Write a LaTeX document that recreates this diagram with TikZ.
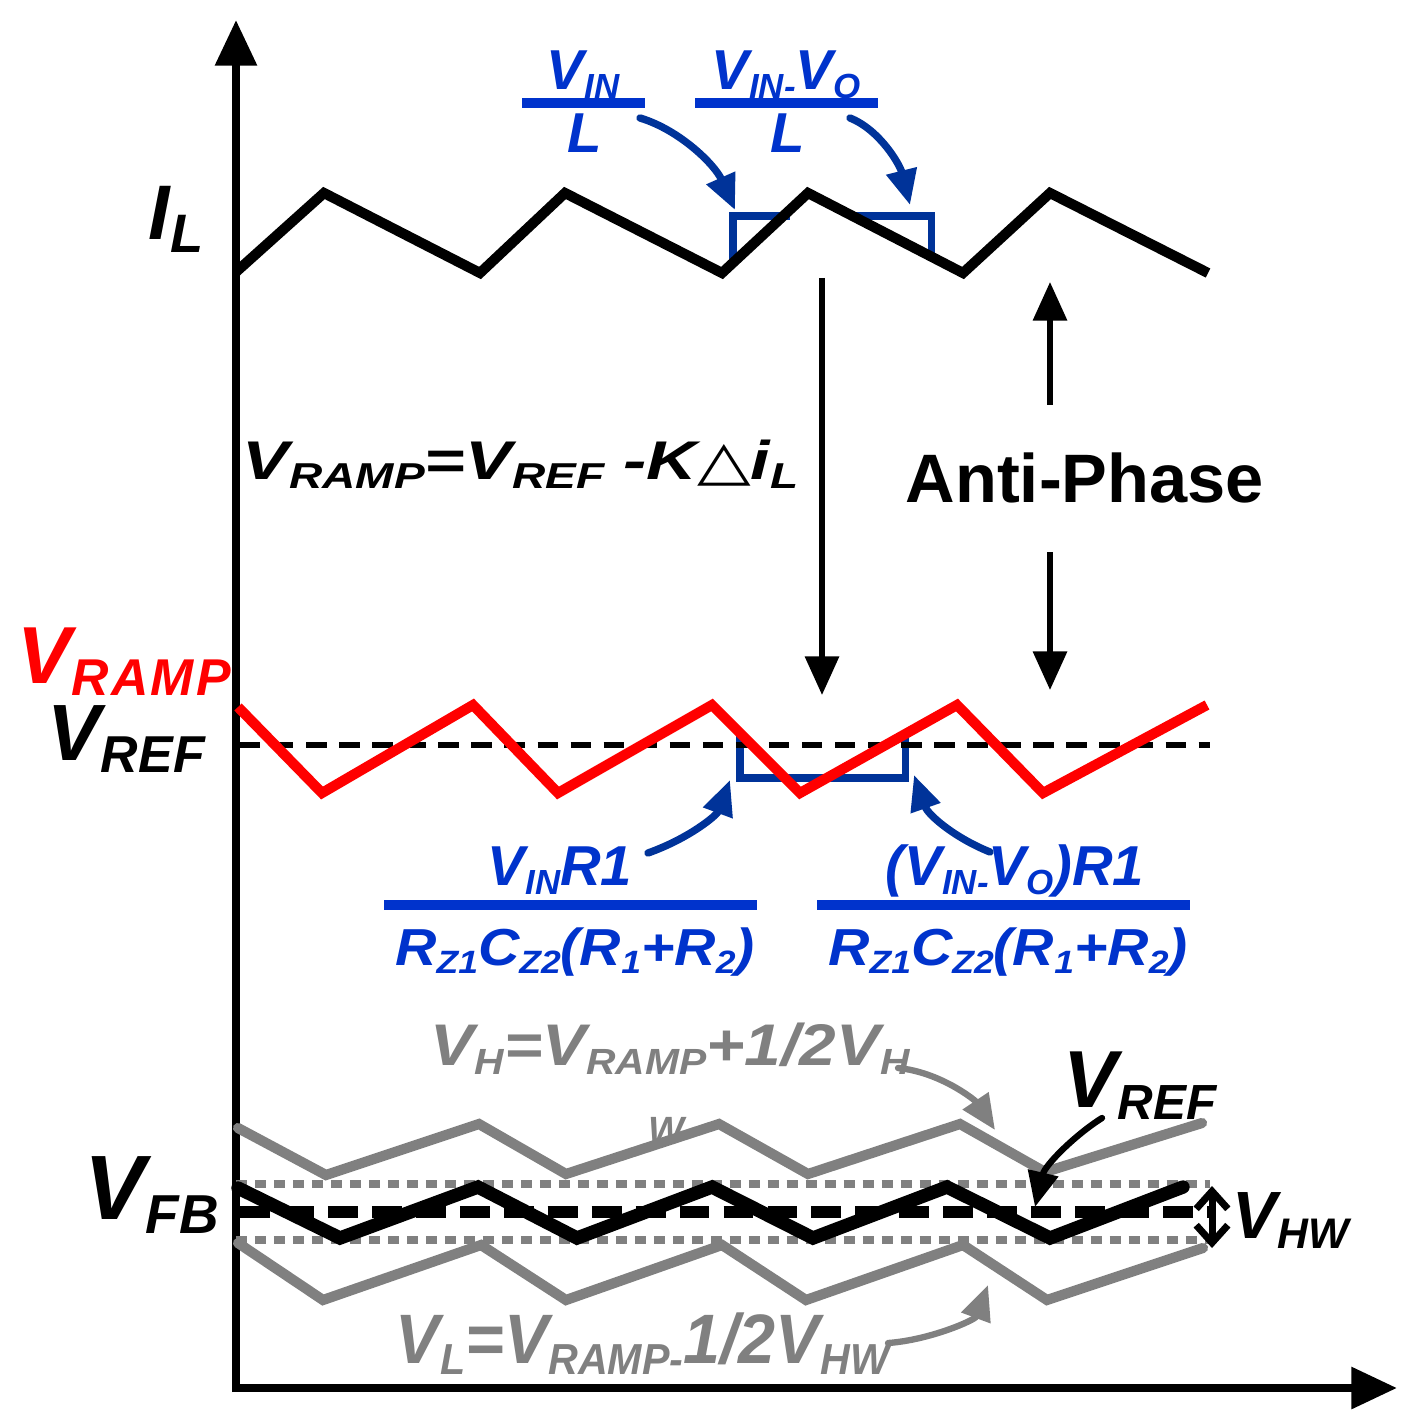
\documentclass[tikz,border=0pt]{standalone}
\usepackage{fontspec}
\setmainfont{Liberation Sans}
\newfontfamily\symfont{DejaVu Sans}
\usepackage{graphicx}
\usetikzlibrary{arrows.meta}

\definecolor{fracblue}{RGB}{0,51,204}
\definecolor{markblue}{RGB}{0,51,153}
\definecolor{rampred}{RGB}{255,0,0}
\definecolor{bandgray}{RGB}{128,128,128}

\newcommand{\lblfont}[1]{\fontsize{#1}{#1}\selectfont\bfseries\itshape}
\newcommand{\subtxt}[2][0.62]{\raisebox{-0.16em}{\scalebox{#1}{#2}}}

\begin{document}
\begin{tikzpicture}[x = 0.01cm, y = -0.01cm,
	lbl/.style = {inner sep = 0pt, anchor = base west},
	frac/.style = {inner sep = 0pt, anchor = base, fracblue},
	wave/.style = {line width = 2.9pt},
	bar/.style = {line width = 2.9pt, fracblue},
	box/.style = {line width = 2pt, markblue},
	axis/.style = {line width = 2.3pt, -{Triangle[length = 13pt, width = 11.5pt]}},
	bigarrow/.style = {line width = 1.5pt, -{Triangle[length = 11pt, width = 9.5pt]}},
	curvearrow/.style = {line width = 2.1pt, line cap = round, -{Triangle[length = 10pt, width = 8.5pt]}}]

\useasboundingbox (0,0) rectangle (1413,1422);

% axes
\draw[axis] (236,1392) -- (236,20);
\draw[axis] (232,1388) -- (1397,1388);

% slope marks
\draw[box] (733,263) -- (733,216) -- (790,216);
\draw[box] (850,216) -- (931,216) -- (931,257);
\draw[box] (740,733) -- (740,778) -- (905,778) -- (905,734);

% inductor current
\draw[wave] (236,272) -- (324,193) -- (480,273) -- (565,193) -- (722,273) -- (808,193) -- (963,273) -- (1050,193) -- (1208,273);

% ramp
\draw[line width = 1.8pt, dash pattern = on 5.8pt off 3.6pt] (240,745) -- (1210,745);
\draw[wave, rampred] (238,707) -- (322,793) -- (473,705) -- (558,793) -- (712,705) -- (800,793) -- (957,705) -- (1043,793) -- (1207,705);

% hysteresis window
\draw[wave, bandgray, line cap = round] (238,1128) -- (326,1175) -- (479,1124) -- (566,1174) -- (719,1124) -- (808,1174) -- (960,1124) -- (1045,1172) -- (1202,1123);
\draw[wave, bandgray, line cap = round] (238,1243) -- (323,1300) -- (481,1245) -- (566,1300) -- (722,1245) -- (806,1300) -- (963,1245) -- (1047,1300) -- (1203,1248);
\draw[bandgray, line width = 2.3pt, dash pattern = on 3.2pt off 2.2pt] (236,1184) -- (1210,1184);
\draw[bandgray, line width = 2.3pt, dash pattern = on 3.2pt off 2.2pt] (236,1240) -- (1210,1240);
\draw[line width = 3.2pt, dash pattern = on 8.5pt off 4pt] (240,1212) -- (1210,1212);
\draw[line width = 3.8pt, line cap = round] (238,1188) -- (340,1238) -- (478,1187) -- (577,1238) -- (712,1187) -- (813,1238) -- (947,1187) -- (1050,1238) -- (1183,1187);

% labels
\node[lbl, font = {\lblfont{22pt}}] (il) at (148,240) {I\subtxt[0.7]{L}};
\node[lbl, font = {\lblfont{15.5pt}}] (rampeq) at (242,480) {\scalebox{1.28}[1]{V\subtxt[0.66]{RAMP}=V\subtxt[0.66]{REF} -K{\symfont\mdseries\upshape △}i\subtxt[0.66]{L}}};
\node[lbl, font = {\fontsize{19.5pt}{20pt}\selectfont\bfseries}] (anti) at (905,502) {Anti-Phase};
\node[lbl, rampred, font = {\lblfont{23pt}}] (vramp) at (17,683) {V\subtxt[0.64]{R\kern1pt A\kern1pt M\kern1pt P}};
\node[lbl, font = {\lblfont{22.7pt}}] (vref) at (47,760) {V\subtxt[0.65]{REF}};

\node[frac, font = {\lblfont{16pt}}] (vin) at (583,90) {V\subtxt{IN}};
\draw[bar] (522,103) -- (645,103);
\node[frac, font = {\lblfont{16pt}}] (vinl) at (585,153) {L};
\node[frac, font = {\lblfont{16pt}}] (vinvo) at (786,90) {V\subtxt{IN-}V\subtxt{O}};
\draw[bar] (695,103) -- (878,103);
\node[frac, font = {\lblfont{16pt}}] (vinvol) at (788,153) {L};

\node[frac, font = {\lblfont{16pt}}] (vinr) at (560,885) {V\subtxt{IN}R1};
\draw[bar] (384,905) -- (757,905);
\node[frac, font = {\lblfont{14.8pt}}] (rcl) at (575,965) {\scalebox{1.1}[1]{R\subtxt{Z1}C\subtxt{Z2}(R\subtxt{1}+R\subtxt{2})}};
\node[frac, font = {\lblfont{16pt}}] (vinvor) at (1015,885) {(V\subtxt{IN-}V\subtxt{O})R1};
\draw[bar] (817,905) -- (1190,905);
\node[frac, font = {\lblfont{14.8pt}}] (rcr) at (1008,965) {\scalebox{1.1}[1]{R\subtxt{Z1}C\subtxt{Z2}(R\subtxt{1}+R\subtxt{2})}};

\node[lbl, bandgray, font = {\lblfont{16.7pt}}] (vheq) at (430,1065) {\scalebox{1.12}[1]{V\subtxt{H}=V\subtxt{RAMP}+1/2V\subtxt{H}}};
\node[lbl, bandgray, font = {\lblfont{10.8pt}}] (vhw) at (648,1143) {W};
\node[lbl, font = {\lblfont{23pt}}] (vrefb) at (1063,1107) {V\subtxt[0.61]{REF}};
\node[lbl, font = {\lblfont{26pt}}] (vfb) at (84,1219) {V\subtxt[0.6]{FB}};
\node[lbl, font = {\lblfont{19pt}}] (vhwl) at (1232,1238) {V\subtxt[0.64]{HW}};
\node[lbl, bandgray, font = {\lblfont{19.9pt}}] (vleq) at (395,1363) {\scalebox{0.95}[1]{V\subtxt{L}=V\subtxt{RAMP-}1/2V\subtxt{HW}}};

% connectors
\coordinate (vin tail) at (640,118);
\coordinate (vin head) at (735,210);
\coordinate (vinvo tail) at (850,118);
\coordinate (vinvo head) at (910,205);
\coordinate (vinr tail) at (648,853);
\coordinate (vinr head) at (730,780);
\coordinate (vinvor tail) at (990,852);
\coordinate (vinvor head) at (914,775);
\coordinate (il tail) at (822,278);
\coordinate (il head) at (822,695);
\coordinate (anti up) at (1050,282);
\coordinate (anti upt) at (1050,405);
\coordinate (anti dn) at (1050,690);
\coordinate (anti dnt) at (1050,552);
\coordinate (vh tail) at (898,1068);
\coordinate (vh head) at (995,1130);
\coordinate (vl tail) at (888,1343);
\coordinate (vl head) at (988,1285);
\coordinate (vrefb tail) at (1102,1118);
\coordinate (vrefb head) at (1035,1207);
\coordinate (hw top) at (1212,1186);
\coordinate (hw bot) at (1212,1248);

\draw[curvearrow, markblue] (vin tail) .. controls (680,130) and (715,165) .. (vin head);
\draw[curvearrow, markblue] (vinvo tail) .. controls (880,130) and (900,165) .. (vinvo head);
\draw[curvearrow, markblue] (vinr tail) .. controls (690,838) and (717,815) .. (vinr head);
\draw[curvearrow, markblue] (vinvor tail) .. controls (955,838) and (928,815) .. (vinvor head);

\draw[bigarrow] (il tail) -- (il head);
\draw[bigarrow] (anti upt) -- (anti up);
\draw[bigarrow] (anti dnt) -- (anti dn);

\draw[curvearrow, bandgray, line width = 1.8pt] (vh tail) .. controls (940,1072) and (975,1100) .. (vh head);
\draw[curvearrow, bandgray, line width = 1.8pt] (vl tail) .. controls (930,1340) and (975,1320) .. (vl head);
\draw[curvearrow, line width = 1.8pt] (vrefb tail) .. controls (1075,1135) and (1045,1165) .. (vrefb head);
\draw[line width = 2pt, {Straight Barb[length = 5pt, width = 9pt]}-{Straight Barb[length = 5pt, width = 9pt]}] (hw top) -- (hw bot);

\end{tikzpicture}
\end{document}
